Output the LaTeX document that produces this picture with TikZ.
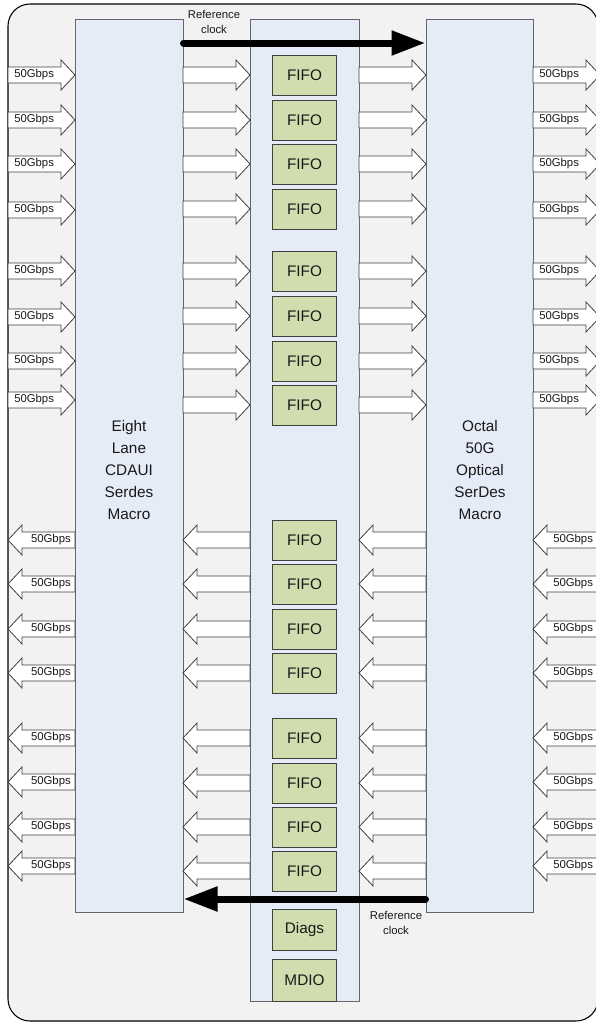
\documentclass[tikz,border=0pt]{standalone}
\usepackage{fontspec}
\setmainfont{Liberation Sans}
\usetikzlibrary{arrows.meta}

\definecolor{framegray}{RGB}{242,242,242}
\definecolor{macroblue}{RGB}{230,236,247}
\definecolor{fifogreen}{RGB}{208,221,174}
\definecolor{edgegray}{RGB}{64,64,64}

\newcommand{\px}{0.75pt}
% block arrow: tail x, tip x, centre y
\newcommand{\blockarrow}[3]{%
  \draw[blockarr] ({#1},{#3-8}) -- ({#2-14*sign(#2-#1)},{#3-8})
    -- ({#2-14*sign(#2-#1)},{#3-15}) -- ({#2},{#3})
    -- ({#2-14*sign(#2-#1)},{#3+15}) -- ({#2-14*sign(#2-#1)},{#3+8})
    -- ({#1},{#3+8}) -- cycle;}

\begin{document}
\begin{tikzpicture}[
    x=0.75pt, y=-0.75pt,
    >=Latex,
    frame/.style={draw=black, fill=framegray, line width=0.8pt, rounded corners=16.5pt},
    macro/.style={draw=black!60, fill=macroblue, line width=0.75pt, inner sep=0pt,
                  align=center, font=\fontsize{11.5}{16.5}\selectfont, text=black!90},
    fifo/.style={draw=edgegray, fill=fifogreen, line width=0.75pt, inner sep=0pt,
                 minimum width=64*\px, minimum height=40*\px,
                 font=\fontsize{11.5}{13}\selectfont, text=black!90},
    blockarr/.style={draw=edgegray, fill=white, line width=0.6pt},
    rate/.style={inner sep=0pt, font=\fontsize{8.5}{10}\selectfont, text=black!90},
    clock/.style={line width=5.25pt, line cap=round, -{Triangle[length=25.5pt, width=17.5pt]}},
    clocklabel/.style={align=center, inner sep=0pt, font=\fontsize{8.5}{11.25}\selectfont, text=black!90}
  ]
  \useasboundingbox (0,0) rectangle (596,1022);
  \clip (0,0) rectangle (596,1022);

  % outer frame
  \draw[frame] (8,4) rectangle (598,1021);

  % macros and core
  \node[macro, minimum width=108*\px, minimum height=893*\px] (lmac) at (129,465.5) {};
  \node[macro, minimum width=109*\px, minimum height=982*\px] (core) at (304.5,510) {};
  \node[macro, minimum width=107*\px, minimum height=893*\px] (rmac) at (479.5,465.5) {};
  \node[macro, draw=none, fill=none] (ltext) at (129,470) {Eight\\Lane\\CDAUI\\Serdes\\Macro};
  \node[macro, draw=none, fill=none] (rtext) at (480,470) {Octal\\50G\\Optical\\SerDes\\Macro};

  % transmit side
  \foreach \y [count=\i] in {75,120,164,210,271,317,361,400} {
    \blockarrow{8}{75}{\y}
    \blockarrow{533}{600}{\y}
    \node[rate, anchor=west] (inL\i) at (14,\y) {50Gbps};
    \node[rate, anchor=west] (outR\i) at (539,\y) {50Gbps};
  }
  \foreach \y [count=\i] in {75,120,164,209,271,316,361,405} {
    \blockarrow{183}{250}{\y}
    \blockarrow{359}{426}{\y}
    \node[fifo] (fifo\i) at (304.5,\y) {FIFO};
  }

  % receive side
  \foreach \y [count=\i] in {540,584,629,673,738,782,827,866} {
    \blockarrow{75}{8}{\y}
    \blockarrow{600}{533}{\y}
    \node[rate, anchor=east] (outL\i) at (71,\y) {50Gbps};
    \node[rate, anchor=west] (inR\i) at (553,\y) {50Gbps};
  }
  \foreach \y [count=\i from 9] in {540,584,629,673,738,783,827,871} {
    \blockarrow{250}{183}{\y}
    \blockarrow{426}{359}{\y}
    \node[fifo] (fifo\i) at (304.5,\y) {FIFO};
  }

  \node[fifo, minimum height=41*\px] (diags) at (304.5,929.5) {Diags};
  \node[fifo, minimum height=42*\px] (mdio) at (304.5,980) {MDIO};

  % reference clocks
  \coordinate (clktop) at (0,43);
  \coordinate (clkbot) at (0,899);
  \draw[clock] (lmac.east |- clktop) -- (rmac.west |- clktop);
  \draw[clock] (rmac.west |- clkbot) -- (lmac.east |- clkbot);
  \node[clocklabel] (clklabtop) at (214,22) {Reference\\clock};
  \node[clocklabel] (clklabbot) at (396,923) {Reference\\clock};
\end{tikzpicture}
\end{document}
